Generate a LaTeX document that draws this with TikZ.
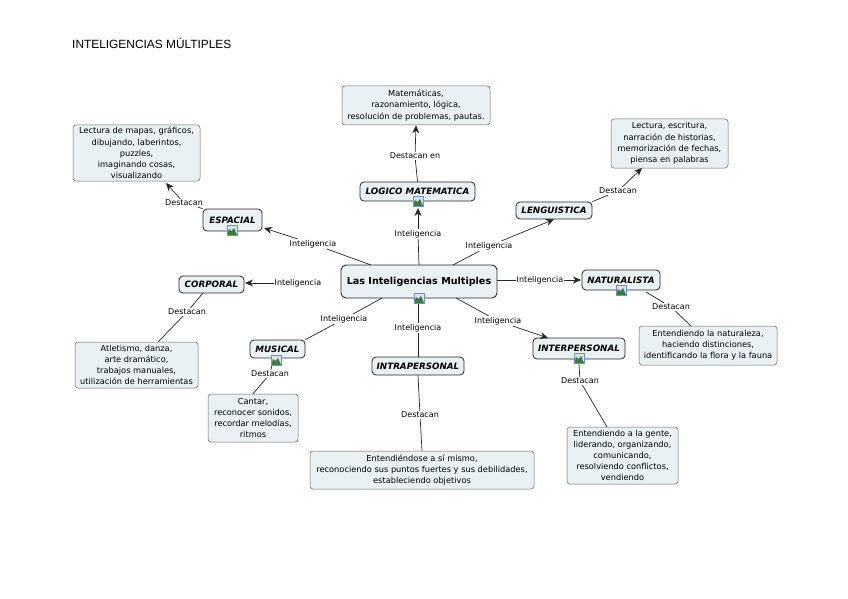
\documentclass[tikz,border=0pt]{standalone}
\usepackage{fontspec}
\setmainfont{DejaVu Sans}
\newfontfamily\titlefont{Liberation Sans}
\usetikzlibrary{arrows.meta}
\definecolor{boxfill}{HTML}{E9F1F5}
\definecolor{iconblue}{HTML}{6C93C8}
\definecolor{icongreen}{HTML}{3F7A45}
\definecolor{iconsky}{HTML}{D5E2EE}
\tikzset{
  x=1pt,y=-1pt,
  every node/.style={font=\fontsize{8}{10.6}\selectfont,inner sep=0pt,align=center},
  root/.style={draw=black!85,line width=0.9pt,fill=boxfill,rounded corners=5pt,font=\fontsize{9.6}{12}\selectfont\bfseries},
  concept/.style={draw=black!85,line width=0.8pt,fill=boxfill,rounded corners=4pt,font=\fontsize{8.75}{10}\selectfont\bfseries\itshape},
  desc/.style={draw=black!60,line width=0.5pt,fill=boxfill,rounded corners=3pt,font=\fontsize{8.25}{11.2}\selectfont},
  link/.style={fill=white,inner sep=1pt},
  line/.style={draw=black!85,line width=0.7pt},
  arrowline/.style={line,-{Stealth[length=8pt,width=7pt]}},
  icon/.style={draw=iconblue,line width=1pt,fill=iconsky,minimum size=10pt,
    path picture={\fill[icongreen] (path picture bounding box.south west) -- ++(2pt,6pt) -- ++(2.5pt,-2pt) -- ++(2.5pt,3pt) -- (path picture bounding box.south east) -- cycle;}}
}
\newcommand{\bx}[7][]{\node[#2,minimum width=#5-#3,minimum height=#6-#4,#1] (#7) at ({(#3+#5)/2},{(#4+#6)/2})}
\begin{document}
\begin{tikzpicture}
\useasboundingbox (0,0) rectangle (848,599);
\node[anchor=west,font=\titlefont\fontsize{11.9}{13}\selectfont] (title) at (72,43) {INTELIGENCIAS MÚLTIPLES};

% boxes
\bx{root}{341}{265}{497}{298}{root} {Las Inteligencias Multiples};
\bx{concept}{360}{182}{475}{201}{logico} {LOGICO MATEMATICA};
\bx{concept}{203}{209}{262}{231}{espacial} {ESPACIAL};
\bx{concept}{179}{276}{244}{293}{corporal} {CORPORAL};
\bx{concept}{250}{340}{305}{358}{musical} {MUSICAL};
\bx{concept}{372}{357}{464}{375}{intra} {INTRAPERSONAL};
\bx{concept}{533}{338}{625}{359}{inter} {INTERPERSONAL};
\bx{concept}{582}{270}{660}{290}{natur} {NATURALISTA};
\bx{concept}{516}{202}{592}{219}{lingu} {LENGUISTICA};

\bx{desc}{342}{86}{490}{125}{dmat} {Matemáticas,\\razonamiento, lógica,\\resolución de problemas, pautas.};
\bx{desc}{73}{125}{200}{181}{desp} {Lectura de mapas, gráficos,\\dibujando, laberintos,\\puzzles,\\imaginando cosas,\\visualizando};
\bx{desc}{75}{342}{198}{388}{dcor} {Atletismo, danza,\\arte dramático,\\trabajos manuales,\\utilización de herramientas};
\bx{desc}{208}{394}{298}{442}{dmus} {Cantar,\\reconocer sonidos,\\recordar melodías,\\ritmos};
\bx{desc}{310}{451}{534}{489}{dintra} {Entendiéndose a sí mismo,\\reconociendo sus puntos fuertes y sus debilidades,\\estableciendo objetivos};
\bx{desc}{567}{427}{678}{484}{dinter} {Entendiendo a la gente,\\liderando, organizando,\\comunicando,\\resolviendo conflictos,\\vendiendo};
\bx{desc}{639}{326}{777}{365}{dnat} {Entendiendo la naturaleza,\\haciendo distinciones,\\identificando la flora y la fauna};
\bx{desc}{611}{119}{728}{168}{dlin} {Lectura, escritura,\\narración de historias,\\memorización de fechas,\\piensa en palabras};

% link labels
\node[link] (l1) at (418,234) {Inteligencia};
\node[link] (l2) at (489,246) {Inteligencia};
\node[link] (l3) at (313,244) {Inteligencia};
\node[link] (l4) at (298,283) {Inteligencia};
\node[link] (l5) at (540,280) {Inteligencia};
\node[link] (l6) at (344,319) {Inteligencia};
\node[link] (l7) at (418,328) {Inteligencia};
\node[link] (l8) at (498,321) {Inteligencia};
\node[link] (d1) at (415,156) {Destacan en};
\node[link] (d2) at (618,191) {Destacan};
\node[link] (d3) at (184,203) {Destacan};
\node[link] (d4) at (187,312) {Destacan};
\node[link] (d5) at (270,374) {Destacan};
\node[link] (d6) at (420,415) {Destacan};
\node[link] (d7) at (580,381) {Destacan};
\node[link] (d8) at (671,307) {Destacan};

% anchors on the boxes
\coordinate (rt) at (419,265);
\coordinate (rtr) at (453,265);
\coordinate (rtl) at (371,265);
\coordinate (rbl) at (382,298);
\coordinate (rbr) at (456,298);
\coordinate (ar) at (497,280);
\coordinate (tnat) at (581,280);
\coordinate (tcor) at (245,283);

% connectors
\path[line] (rt) -- (l1);
\path[arrowline] (l1) -- (418,208);
\path[line] (rtr) -- (l2);
\path[arrowline] (l2) -- (lingu.south);
\path[line] (rtl) -- (l3);
\path[arrowline] (l3) -- (264,228);
\path[line] (ar) -- (l5);
\path[arrowline] (l5) -- (tnat);
\path[arrowline] (l4) -- (tcor);
\path[line] (rbl) -- (l6);
\path[line] (l6) -- (musical.north east);
\path[line] (418,304) -- (l7);
\path[line] (l7) -- (intra.north);
\path[line] (rbr) -- (l8);
\path[arrowline] (l8) -- (548,338);

\path[line] (logico.north) -- (d1);
\path[arrowline] (d1) -- (dmat.south);
\path[line] (lingu.north east) -- (d2);
\path[arrowline] (d2) -- (642,168);
\path[line] (espacial.north west) -- (d3);
\path[arrowline] (d3) -- (166,183);
\path[line] (203,293) -- (d4);
\path[line] (d4) -- (158,342);
\path[line] (272,365) -- (d5);
\path[line] (d5) -- (dmus.north);
\path[line] (intra.south) -- (d6);
\path[line] (d6) -- (dintra.north);
\path[line] (579,364) -- (d7);
\path[line] (d7) -- (607,427);
\path[line] (646,292) -- (d8);
\path[line] (d8) -- (691,326);

% icons
\node[icon] (ir) at (419,298) {};
\node[icon] (il) at (418,201) {};
\node[icon] (ie) at (232,230) {};
\node[icon] (im) at (276,360) {};
\node[icon] (iin) at (579,358) {};
\node[icon] (ina) at (621,290) {};
\end{tikzpicture}
\end{document}
